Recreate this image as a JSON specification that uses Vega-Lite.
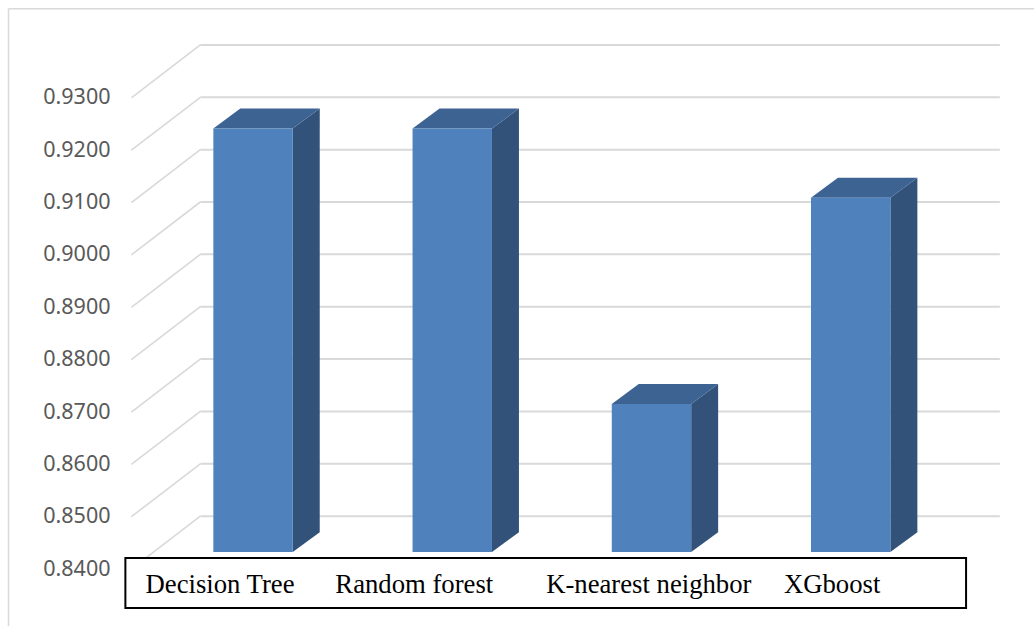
{
  "$schema": "https://vega.github.io/schema/vega-lite/v6.json",
  "width": 1035,
  "height": 627,
  "autosize": {"type": "fit", "contains": "padding"},
  "padding": 0,
  "background": "#ffffff",
  "config": {"view": {"stroke": null}},
  "resolve": {"axis": {"y": "independent"}},
  "datasets": {
    "scores": [
      {"model": "Decision Tree", "value": 0.9209},
      {"model": "Random forest", "value": 0.9209},
      {"model": "K-nearest neighbor", "value": 0.8683},
      {"model": "XGboost", "value": 0.9077}
    ],
    "ticks": [
      {"tick": 0.84}, {"tick": 0.85}, {"tick": 0.86}, {"tick": 0.87}, {"tick": 0.88},
      {"tick": 0.89}, {"tick": 0.90}, {"tick": 0.91}, {"tick": 0.92}, {"tick": 0.93}
    ],
    "one": [{"note": "frame"}]
  },
  "layer": [
    {
      "data": {"name": "one"},
      "mark": {"type": "rule", "color": "#d9d9d9", "strokeWidth": 1.5},
      "encoding": {
        "x": {"datum": -1.2277, "type": "quantitative", "scale": {"domain": [-1.2703, 3.9202]}, "axis": null},
        "x2": {"datum": 3.9202},
        "y": {"datum": 0.947, "type": "quantitative", "scale": {"domain": [0.82913, 0.94869]},
          "axis": {"orient": "left", "offset": -110, "values": [0.84, 0.85, 0.86, 0.87, 0.88, 0.89, 0.90, 0.91, 0.92, 0.93],
            "format": ".4f", "title": null, "domain": false, "ticks": false, "grid": false, "labelPadding": 0,
            "labelFont": "Noto Sans", "labelFontSize": 21.5, "labelColor": "#595959", "labelOverlap": false, "labelBound": false, "labelFlush": false}}
      }
    },
    {
      "data": {"name": "one"},
      "mark": {"type": "rule", "color": "#d9d9d9", "strokeWidth": 1.5},
      "encoding": {
        "x": {"datum": -1.2277, "type": "quantitative", "scale": {"domain": [-1.2703, 3.9202]}, "axis": null},
        "y": {"datum": 0.947, "type": "quantitative", "scale": {"domain": [0.82913, 0.94869]}, "axis": null},
        "y2": {"datum": 0.82913}
      }
    },
    {
      "data": {"name": "ticks"},
      "transform": [{"calculate": "datum.tick + 0.01011", "as": "wall"}],
      "mark": {"type": "rule", "color": "#d9d9d9", "strokeWidth": 2},
      "encoding": {
        "x": {"datum": -0.2648, "type": "quantitative", "scale": {"domain": [-1.2703, 3.9202]}, "axis": null},
        "x2": {"datum": 3.7487},
        "y": {"field": "wall", "type": "quantitative", "scale": {"domain": [0.82913, 0.94869]}, "axis": null}
      }
    },
    {
      "data": {"name": "ticks"},
      "transform": [{"calculate": "datum.tick + 0.01011", "as": "wall"}],
      "mark": {"type": "rule", "color": "#d9d9d9", "strokeWidth": 1.6},
      "encoding": {
        "x": {"datum": -0.6108, "type": "quantitative", "scale": {"domain": [-1.2703, 3.9202]}, "axis": null},
        "x2": {"datum": -0.2648},
        "y": {"field": "tick", "type": "quantitative", "scale": {"domain": [0.82913, 0.94869]}, "axis": null},
        "y2": {"field": "wall"}
      }
    },
    {
      "data": {"name": "scores"},
      "transform": [
        {"window": [{"op": "row_number", "as": "n"}]},
        {"calculate": "datum.n - 1", "as": "slot"},
        {"calculate": "[0, 1]", "as": "t"},
        {"flatten": ["t"]},
        {"calculate": "datum.slot + 0.1993 + datum.t * 0.1354", "as": "px"},
        {"calculate": "0.84324 + datum.t * 0.00381", "as": "low"},
        {"calculate": "datum.value + 0.00324 + datum.t * 0.00381", "as": "high"}
      ],
      "mark": {"type": "area", "color": "#32527a"},
      "encoding": {
        "detail": {"field": "model"},
        "x": {"field": "px", "type": "quantitative", "scale": {"domain": [-1.2703, 3.9202]}, "axis": null},
        "y": {"field": "high", "type": "quantitative", "scale": {"domain": [0.82913, 0.94869]}, "axis": null},
        "y2": {"field": "low"}
      }
    },
    {
      "data": {"name": "scores"},
      "transform": [
        {"window": [{"op": "row_number", "as": "n"}]},
        {"calculate": "datum.n - 1", "as": "slot"},
        {"calculate": "[0, 0.1354, 0.3986, 0.534]", "as": "p"},
        {"flatten": ["p"]},
        {"calculate": "datum.slot - 0.1993 + datum.p", "as": "px"},
        {"calculate": "datum.value + 0.00324 + (datum.p > 0.3986 ? 0.00381 : 0)", "as": "low"},
        {"calculate": "datum.value + 0.00324 + (datum.p > 0 ? 0.00381 : 0)", "as": "high"}
      ],
      "mark": {"type": "area", "color": "#3d6392"},
      "encoding": {
        "detail": {"field": "model"},
        "x": {"field": "px", "type": "quantitative", "scale": {"domain": [-1.2703, 3.9202]}, "axis": null},
        "y": {"field": "high", "type": "quantitative", "scale": {"domain": [0.82913, 0.94869]}, "axis": null},
        "y2": {"field": "low"}
      }
    },
    {
      "data": {"name": "scores"},
      "transform": [
        {"window": [{"op": "row_number", "as": "n"}]},
        {"calculate": "datum.n - 1.1993", "as": "left"},
        {"calculate": "datum.n - 0.8007", "as": "right"},
        {"calculate": "datum.value + 0.00324", "as": "top"}
      ],
      "mark": {"type": "rect", "color": "#4f81bd"},
      "encoding": {
        "x": {"field": "left", "type": "quantitative", "scale": {"domain": [-1.2703, 3.9202]}, "axis": null},
        "x2": {"field": "right"},
        "y": {"field": "top", "type": "quantitative", "scale": {"domain": [0.82913, 0.94869]}, "axis": null},
        "y2": {"datum": 0.84324}
      }
    },
    {
      "data": {"name": "one"},
      "mark": {"type": "rect", "fill": "#ffffff", "stroke": "#000000", "strokeWidth": 2},
      "encoding": {
        "x": {"datum": -0.6409, "type": "quantitative", "scale": {"domain": [-1.2703, 3.9202]}, "axis": null},
        "x2": {"datum": 3.5792},
        "y": {"datum": 0.8421, "type": "quantitative", "scale": {"domain": [0.82913, 0.94869]}, "axis": null},
        "y2": {"datum": 0.83256}
      }
    },
    {
      "data": {"name": "scores"},
      "transform": [
        {"calculate": "{'Decision Tree': -0.5397, 'Random forest': 0.4132, 'K-nearest neighbor': 1.4714, 'XGboost': 2.6649}[datum.model]", "as": "caption"}
      ],
      "mark": {"type": "text", "align": "left", "baseline": "middle", "font": "Liberation Serif", "fontSize": 26.7, "color": "#000000"},
      "encoding": {
        "text": {"field": "model"},
        "x": {"field": "caption", "type": "quantitative", "scale": {"domain": [-1.2703, 3.9202]}, "axis": null},
        "y": {"datum": 0.83692, "type": "quantitative", "scale": {"domain": [0.82913, 0.94869]}, "axis": null}
      }
    }
  ]
}
